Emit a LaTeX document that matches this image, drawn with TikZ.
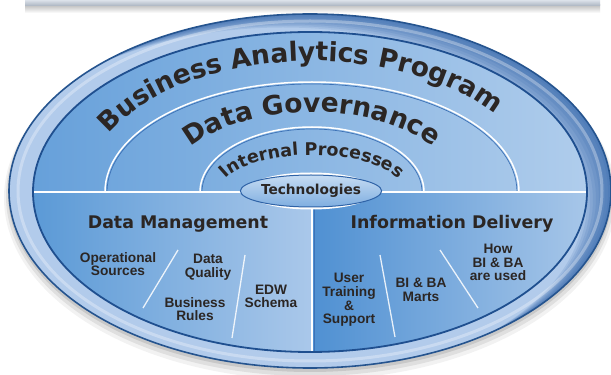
\documentclass[tikz,border=0pt]{standalone}
\usepackage{fontspec}
\setmainfont{Liberation Sans}
\newfontfamily\dvs{DejaVu Sans}
\usetikzlibrary{decorations.text,shapes.geometric}
\definecolor{txt}{HTML}{2B2624}
\definecolor{rimL}{HTML}{B2CBEB}
\definecolor{rimR}{HTML}{2F62A8}
\definecolor{rimEdge}{HTML}{25548F}
\definecolor{innerEdge}{HTML}{1F4F8F}
\definecolor{upL}{HTML}{66A0DA}
\definecolor{upR}{HTML}{B0CDEC}
\definecolor{dmL}{HTML}{5A99D6}
\definecolor{dmR}{HTML}{AAC8EA}
\definecolor{idL}{HTML}{4F90D2}
\definecolor{idR}{HTML}{A8C7E9}
\definecolor{lineB}{HTML}{3D72B6}
\definecolor{techT}{HTML}{C6DCF3}
\definecolor{techB}{HTML}{7FAEE0}
\definecolor{techE}{HTML}{2F63A7}
\definecolor{barT}{HTML}{DCE2EA}
\definecolor{barB}{HTML}{AEB7C4}
\newcommand\arcA{\dvs\bfseries\fontsize{26.5}{26.5}\selectfont}
\newcommand\arcB{\dvs\bfseries\fontsize{26.5}{26.5}\selectfont}
\newcommand\arcC{\dvs\bfseries\fontsize{17.5}{17.5}\selectfont}
\tikzset{
  hdr/.style={font=\dvs\bfseries\fontsize{17.4}{18}\selectfont, text=txt, inner sep=0pt},
  lbl/.style={font=\bfseries\fontsize{13.7}{13.7}\selectfont, text=txt, align=center, inner sep=0pt},
  techbox/.style={ellipse, minimum width=122pt, minimum height=32pt, inner sep=0pt,
    top color=techT, bottom color=techB, draw=techE, line width=1pt,
    font=\dvs\bfseries\fontsize{13.7}{14}\selectfont, text=txt},
  sep/.style={white, opacity=0.85, line width=1.3pt},
  arctext/.style={decorate, decoration={text along path, text align=center, text color=txt, text={#1}}}
}
\begin{document}
\begin{tikzpicture}[x=1pt,y=1pt]
\useasboundingbox (0,0) rectangle (611,375);
\fill[white] (0,0) rectangle (611,375);
% top bar
\shade[top color=black!25, bottom color=white] (25,362) rectangle (600,370);
\shade[top color=barT, bottom color=barB] (25,369.5) rectangle (600,375);
% shadow
\fill[black, opacity=.05] (310,177) ellipse[x radius=306pt, y radius=182pt];
\fill[black, opacity=.08] (310,179) ellipse[x radius=304pt, y radius=180pt];
\fill[black, opacity=.10] (310,181) ellipse[x radius=302pt, y radius=178pt];
% rim
\begin{scope}
\clip (310,184) ellipse[x radius=301pt, y radius=177pt];
\fill[rimL] (0,0) rectangle (611,375);
\foreach \s in {3,6,9,12,15,18,21,24,27} {
  \fill[rimR, opacity=.13, even odd rule] (0,0) rectangle (611,375)
    ({310-\s},{184-0.5*\s}) ellipse[x radius=301pt, y radius=177pt];
}
\end{scope}
\draw[rimEdge, line width=1.6pt] (310,184) ellipse[x radius=301pt, y radius=177pt];
\draw[white, opacity=.3, line width=3pt] (310,184) ellipse[x radius=292pt, y radius=170pt];
% inner regions
\begin{scope}
\clip (310,183) ellipse[x radius=277pt, y radius=160pt];
\shade[left color=upL, right color=upR] (30,183) rectangle (590,345);
\shade[left color=dmL, right color=dmR] (30,20) rectangle (312,183);
\shade[left color=idL, right color=idR] (312,20) rectangle (590,183);
\draw[white, line width=1.5pt] (105,183) arc[start angle=180, end angle=0, x radius=207pt, y radius=110pt];
\draw[lineB, line width=.7pt] (107,183) arc[start angle=180, end angle=0, x radius=205pt, y radius=108pt];
\draw[white, line width=1.5pt] (200,183) arc[start angle=180, end angle=0, x radius=112pt, y radius=65pt];
\draw[lineB, line width=.7pt] (202,183) arc[start angle=180, end angle=0, x radius=110pt, y radius=63pt];
\draw[white, line width=1.6pt] (30,183) -- (590,183);
\draw[lineB, line width=.8pt] (314,183) -- (314,20);
\draw[white, line width=1.4pt] (312,183) -- (312,20);
\end{scope}
\draw[innerEdge, line width=1.8pt] (310,183) ellipse[x radius=277pt, y radius=160pt];
% slanted separators
\draw[sep] (178,125) -- (143,67);
\draw[sep] (245,120) -- (232,37);
\draw[sep] (380,120) -- (395,38);
\draw[sep] (440,125) -- (478,67);
% arched texts
\path[arctext={|\arcA|Business Analytics Program}]
  (312,183) ++(186:227pt and 131pt) arc[start angle=186, end angle=6, x radius=227pt, y radius=131pt];
\path[arctext={|\arcB|Data Governance}]
  (312,183) ++(180:146pt and 80pt) arc[start angle=180, end angle=0, x radius=146pt, y radius=80pt];
\path[arctext={|\arcC|Internal Processes}]
  (312,183) ++(180:92pt and 37pt) arc[start angle=180, end angle=0, x radius=92pt, y radius=37pt];
% technologies
\draw[white, line width=3pt] (311,184) ellipse[x radius=62pt, y radius=17pt];
\node[techbox] (tech) at (311,184) {Technologies};
% headers
\node[hdr, anchor=base] (dm) at (178,146.5) {Data Management};
\node[hdr, anchor=base] (id) at (452,146.5) {Information Delivery};
% labels
\node[lbl] (ops) at (118,111) {Operational\\Sources};
\node[lbl] (dq) at (208,107.5) {Data\\Quality};
\node[lbl] (br) at (195,66) {Business\\Rules};
\node[lbl] (edw) at (271,78.5) {EDW\\Schema};
\node[lbl] (uts) at (349,75) {User\\Training\\\&\\Support};
\node[lbl] (marts) at (421,85) {BI \& BA\\Marts};
\node[lbl] (how) at (498,112.5) {How\\BI \& BA\\are used};
\end{tikzpicture}
\end{document}
